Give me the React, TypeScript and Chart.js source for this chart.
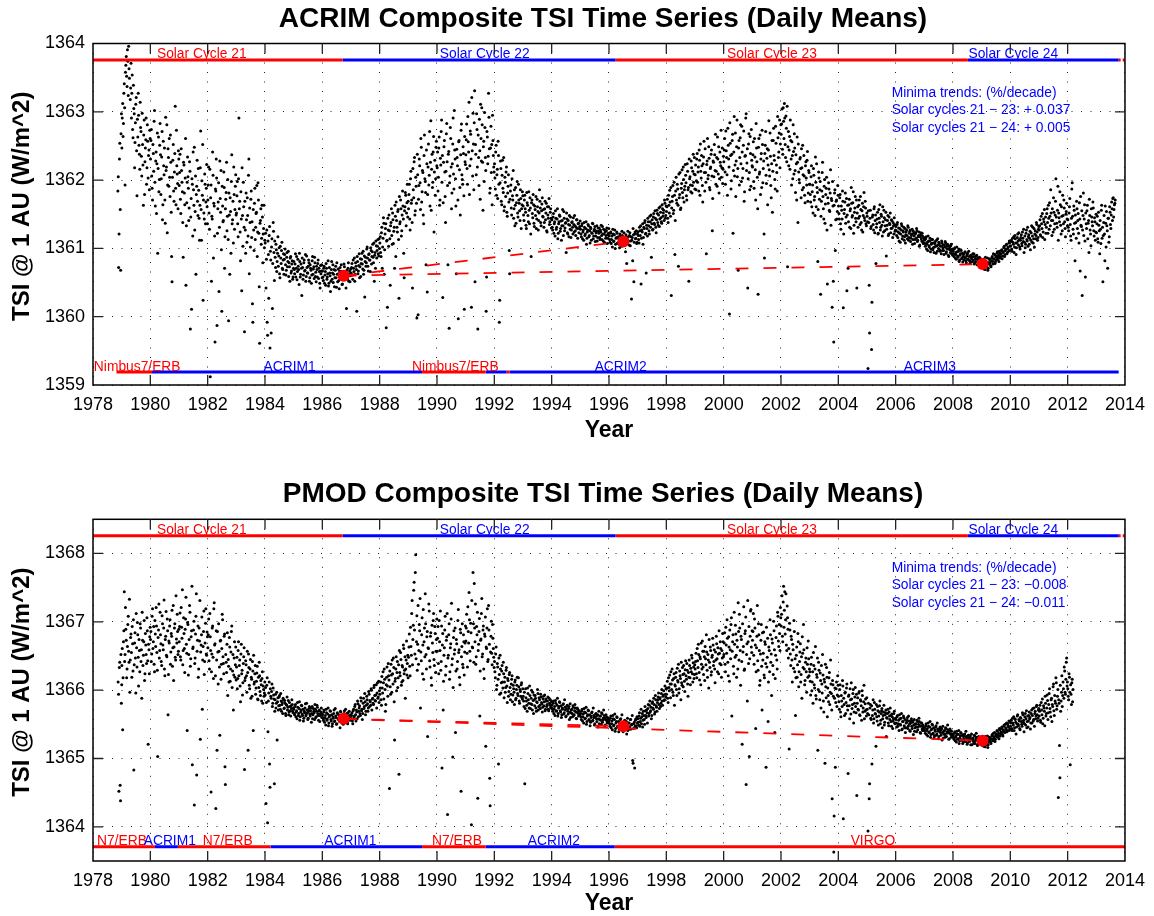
import React, { useEffect, useRef } from "react";
import { Chart, registerables } from "chart.js";

Chart.register(...registerables);

const FONT = "'Liberation Sans', Arial, Helvetica, sans-serif";
const RED = "#ff0000";
const BLUE = "#0000ff";
const STEP = 1 / 36; // sampling step of each plotted pass (years); pass B sits half a step later

const X_TICK_MIN = 1978;
const X_TICK_MAX = 2014;
const ACRIM_Y_TICKS = [1359, 1360, 1361, 1362, 1363, 1364];
const PMOD_Y_TICKS = [1364, 1365, 1366, 1367, 1368];

// ---------------- ACRIM composite TSI (W/m^2), pass A ----------------
const acrim1978 = [1361.84, 1360.72, 1362.31, 1361.57, 1362.68];
const acrim1979 = [
  1362.47, 1363.12, 1362.83, 1363.41, 1361.93, 1363.68, 1363.52, 1363.91, 1363.24, 1363.63, 1364.02, 1363.35,
  1362.91, 1363.54, 1362.62, 1363.05, 1362.18, 1362.84, 1363.21, 1361.77, 1362.63, 1362.95, 1362.38, 1363.14,
  1362.71, 1362.06, 1362.52, 1361.63, 1362.88, 1362.27, 1362.59, 1361.94, 1362.81, 1362.03, 1362.44, 1362.73];
const acrim1980 = [
  1362.31, 1362.74, 1361.88, 1362.52, 1362.13, 1363.02, 1361.62, 1362.41, 1362.24, 1360.93, 1362.63, 1362.01,
  1362.83, 1361.79, 1362.34, 1361.42, 1362.57, 1362.08, 1361.71, 1362.92, 1362.19, 1361.23, 1362.46, 1361.91,
  1362.04, 1362.66, 1361.53, 1360.51, 1362.29, 1361.84, 1362.12, 1363.08, 1361.64, 1362.21, 1361.95, 1362.43];
const acrim1981 = [
  1361.92, 1362.38, 1361.51, 1362.14, 1361.83, 1360.87, 1362.22, 1361.64, 1362.61, 1361.33, 1361.97, 1362.05,
  1361.41, 1362.27, 1359.82, 1361.73, 1362.02, 1361.18, 1361.86, 1362.48, 1361.54, 1360.62, 1361.91, 1361.69,
  1362.17, 1361.44, 1361.63, 1362.72, 1361.12, 1361.78, 1360.24, 1361.52, 1362.09, 1361.36, 1361.88, 1361.61];
const acrim1982 = [
  1361.71, 1362.19, 1361.28, 1359.12, 1361.93, 1361.47, 1362.41, 1360.86, 1361.62, 1359.63, 1361.84, 1362.03,
  1361.22, 1361.68, 1360.37, 1362.28, 1361.53, 1360.98, 1361.91, 1361.39, 1362.12, 1360.71, 1361.58, 1361.82,
  1361.26, 1362.01, 1359.94, 1361.49, 1361.74, 1360.93, 1362.37, 1361.42, 1361.08, 1361.79, 1361.57, 1362.08];
const acrim1983 = [
  1361.52, 1361.98, 1361.17, 1362.91, 1361.69, 1360.82, 1361.43, 1362.18, 1361.03, 1361.61, 1359.78, 1361.27,
  1361.81, 1361.09, 1361.48, 1362.07, 1360.63, 1361.38, 1361.72, 1361.16, 1360.19, 1361.57, 1360.97, 1361.88,
  1361.31, 1361.53, 1360.88, 1361.96, 1361.22, 1359.61, 1361.41, 1361.06, 1361.63, 1360.79, 1361.29, 1361.01];
const acrim1984 = [
  1361.08, 1360.42, 1361.27, 1359.73, 1360.91, 1361.19, 1359.54, 1360.83, 1361.02, 1360.12, 1361.38, 1360.94,
  1361.11, 1360.72, 1360.98, 1360.81, 1361.17, 1360.89, 1360.63, 1361.03, 1360.78, 1361.09, 1360.69, 1360.92,
  1360.84, 1360.99, 1360.61, 1360.87, 1360.73, 1360.96, 1360.79, 1360.52, 1360.88, 1360.67, 1360.82, 1360.58];
const acrim1985 = [
  1360.81, 1360.63, 1360.92, 1360.71, 1360.54, 1360.84, 1360.69, 1360.93, 1360.58, 1360.77, 1360.31, 1360.72,
  1360.61, 1360.83, 1360.68, 1360.52, 1360.89, 1360.64, 1360.74, 1360.79, 1360.57, 1360.71, 1360.49, 1360.82,
  1360.62, 1360.73, 1360.87, 1360.59, 1360.51, 1360.69, 1360.78, 1360.56, 1360.66, 1360.42, 1360.63, 1360.76];
const acrim1986 = [
  1360.67, 1360.53, 1360.74, 1360.61, 1360.46, 1360.71, 1360.58, 1360.82, 1360.49, 1360.64, 1360.37, 1360.69,
  1360.55, 1360.76, 1360.62, 1360.44, 1360.68, 1360.57, 1360.79, 1360.51, 1360.63, 1360.41, 1360.72, 1360.59,
  1360.66, 1360.48, 1360.61, 1360.77, 1360.54, 1360.65, 1360.12, 1360.58, 1360.71, 1360.52, 1360.67, 1360.6];
const acrim1987 = [
  1360.64, 1360.78, 1360.55, 1360.71, 1360.86, 1360.62, 1360.74, 1360.08, 1360.81, 1360.67, 1360.92, 1360.73,
  1360.59, 1360.84, 1360.77, 1360.96, 1360.68, 1360.29, 1360.87, 1360.79, 1361.02, 1360.74, 1360.91, 1360.83,
  1360.66, 1360.97, 1360.88, 1361.06, 1360.79, 1360.52, 1360.94, 1361.11, 1360.86, 1361.03, 1360.92, 1361.14];
const acrim1988 = [
  1361.08, 1360.94, 1361.23, 1360.71, 1361.15, 1361.37, 1360.98, 1361.29, 1359.84, 1361.12, 1361.44, 1361.03,
  1361.26, 1360.46, 1361.38, 1361.19, 1361.52, 1361.07, 1361.31, 1361.63, 1360.88, 1361.41, 1361.24, 1361.57,
  1360.27, 1361.36, 1361.71, 1361.18, 1361.49, 1361.62, 1360.93, 1361.55, 1361.82, 1361.33, 1361.67, 1361.46];
const acrim1989 = [
  1361.58, 1361.94, 1361.27, 1362.13, 1361.71, 1360.42, 1361.86, 1362.27, 1361.49, 1362.04, 1361.66, 1362.38,
  1360.03, 1361.92, 1362.21, 1361.57, 1362.48, 1361.83, 1362.11, 1361.36, 1362.66, 1361.98, 1360.76, 1362.24,
  1361.79, 1362.53, 1362.07, 1361.62, 1362.87, 1362.16, 1361.89, 1362.41, 1361.24, 1362.29, 1362.02, 1362.57];
const acrim1990 = [
  1362.18, 1361.84, 1362.47, 1361.63, 1362.32, 1362.71, 1361.97, 1360.28, 1362.26, 1362.58, 1361.76, 1362.13,
  1362.83, 1361.92, 1362.38, 1359.83, 1362.06, 1362.61, 1361.58, 1362.24, 1362.91, 1361.87, 1362.44, 1362.02,
  1360.63, 1362.33, 1361.71, 1362.56, 1362.15, 1361.49, 1362.73, 1362.08, 1361.94, 1362.39, 1360.11, 1362.27];
const acrim1991 = [
  1362.37, 1362.82, 1361.94, 1362.56, 1363.14, 1362.21, 1362.67, 1360.14, 1362.43, 1362.98, 1361.86, 1363.31,
  1362.52, 1362.08, 1362.74, 1359.82, 1362.33, 1362.89, 1361.72, 1362.61, 1363.06, 1362.26, 1362.49, 1361.98,
  1362.77, 1362.14, 1360.58, 1362.63, 1362.35, 1362.92, 1361.81, 1362.47, 1362.11, 1361.64, 1362.58, 1362.19];
const acrim1992 = [
  1362.24, 1361.87, 1362.51, 1362.08, 1361.73, 1362.36, 1359.92, 1361.96, 1362.17, 1361.64, 1362.29, 1361.82,
  1361.55, 1362.04, 1361.76, 1362.19, 1361.47, 1361.91, 1361.68, 1360.63, 1361.84, 1361.59, 1362.02, 1361.71,
  1361.44, 1361.86, 1361.63, 1361.37, 1361.78, 1361.52, 1361.94, 1361.66, 1361.41, 1361.73, 1361.58, 1361.83];
const acrim1993 = [
  1361.62, 1361.41, 1361.78, 1361.53, 1361.29, 1361.67, 1361.48, 1361.83, 1361.36, 1361.59, 1360.88, 1361.71,
  1361.45, 1361.64, 1361.32, 1361.57, 1361.76, 1361.43, 1361.61, 1361.27, 1361.52, 1361.69, 1361.38, 1361.55,
  1361.74, 1361.46, 1361.31, 1361.58, 1361.42, 1361.66, 1361.24, 1361.49, 1361.61, 1361.35, 1361.53, 1361.44];
const acrim1994 = [
  1361.42, 1361.27, 1361.51, 1361.36, 1361.18, 1361.44, 1361.31, 1361.58, 1361.22, 1361.39, 1361.47, 1361.29,
  1361.12, 1361.41, 1361.33, 1361.54, 1361.26, 1361.37, 1360.94, 1361.43, 1361.21, 1361.35, 1361.48, 1361.28,
  1361.16, 1361.38, 1361.31, 1361.45, 1361.24, 1361.33, 1361.19, 1361.42, 1361.29, 1361.36, 1361.23, 1361.32];
const acrim1995 = [
  1361.28, 1361.17, 1361.36, 1361.24, 1361.12, 1361.31, 1361.21, 1361.39, 1361.15, 1361.27, 1361.33, 1361.19,
  1361.08, 1361.29, 1361.23, 1361.37, 1361.14, 1361.26, 1361.32, 1361.18, 1361.25, 1361.11, 1361.3, 1361.22,
  1361.16, 1361.27, 1361.34, 1361.13, 1361.21, 1361.28, 1361.09, 1361.24, 1361.19, 1361.3, 1361.15, 1361.22];
const acrim1996 = [
  1361.18, 1361.09, 1361.24, 1361.13, 1361.02, 1361.21, 1361.11, 1361.27, 1361.06, 1361.16, 1361.22, 1361.08,
  1361.14, 1361.01, 1361.19, 1361.1, 1361.25, 1361.04, 1361.15, 1361.12, 1361.07, 1361.2, 1360.78, 1361.13,
  1361.17, 1361.05, 1361.23, 1361.11, 1360.26, 1361.16, 1361.29, 1360.51, 1361.21, 1361.14, 1361.26, 1361.09];
const acrim1997 = [
  1361.24, 1361.13, 1361.31, 1361.19, 1360.48, 1361.27, 1361.36, 1361.16, 1361.29, 1361.41, 1361.22, 1361.34,
  1361.18, 1361.39, 1361.26, 1361.47, 1361.31, 1360.87, 1361.42, 1361.28, 1361.51, 1361.35, 1361.44, 1361.23,
  1361.56, 1361.38, 1361.49, 1361.32, 1361.61, 1361.45, 1361.37, 1361.58, 1361.52, 1361.41, 1361.66, 1361.48];
const acrim1998 = [
  1361.54, 1361.72, 1361.38, 1361.63, 1361.85, 1361.47, 1360.31, 1361.69, 1361.92, 1361.56, 1361.78, 1361.41,
  1362.04, 1361.66, 1361.87, 1360.74, 1361.74, 1362.11, 1361.59, 1361.95, 1361.82, 1362.19, 1361.68, 1361.91,
  1362.07, 1361.77, 1362.24, 1361.86, 1360.52, 1362.02, 1361.93, 1362.28, 1361.81, 1362.13, 1361.97, 1362.33];
const acrim1999 = [
  1362.08, 1361.86, 1362.31, 1361.97, 1362.19, 1362.44, 1361.78, 1362.13, 1362.36, 1361.92, 1362.24, 1362.57,
  1361.84, 1362.11, 1360.92, 1362.28, 1362.02, 1362.49, 1361.89, 1362.17, 1362.38, 1362.06, 1361.73, 1362.26,
  1362.52, 1362.14, 1361.94, 1362.33, 1362.63, 1362.09, 1361.81, 1362.41, 1362.21, 1362.04, 1362.47, 1362.16];
const acrim2000 = [
  1362.27, 1362.61, 1361.94, 1362.43, 1362.08, 1362.76, 1362.31, 1360.04, 1362.54, 1361.87, 1362.38, 1362.67,
  1362.14, 1362.93, 1362.22, 1361.76, 1362.49, 1362.05, 1360.68, 1362.58, 1362.33, 1362.81, 1361.98, 1362.41,
  1362.17, 1362.72, 1361.83, 1362.36, 1362.97, 1362.25, 1360.42, 1362.53, 1362.11, 1362.64, 1361.91, 1362.29];
const acrim2001 = [
  1362.19, 1362.56, 1361.88, 1362.34, 1361.71, 1362.47, 1362.04, 1360.33, 1362.61, 1362.12, 1361.79, 1362.39,
  1362.73, 1361.96, 1362.28, 1360.86, 1362.51, 1362.07, 1362.32, 1361.64, 1362.44, 1362.15, 1362.69, 1361.92,
  1362.24, 1361.53, 1362.58, 1362.36, 1362.01, 1362.79, 1362.22, 1361.84, 1362.62, 1362.41, 1362.88, 1362.53];
const acrim2002 = [
  1362.67, 1363.04, 1362.38, 1362.86, 1363.12, 1362.52, 1362.94, 1362.27, 1360.73, 1362.71, 1362.44, 1362.16,
  1362.58, 1361.93, 1362.36, 1362.81, 1362.09, 1362.47, 1361.82, 1362.24, 1362.63, 1361.38, 1362.12, 1361.96,
  1362.33, 1361.74, 1362.18, 1362.51, 1361.89, 1362.06, 1361.67, 1362.27, 1361.93, 1362.42, 1361.81, 1362.11];
const acrim2003 = [
  1361.94, 1361.68, 1362.21, 1361.83, 1361.52, 1362.07, 1361.76, 1362.34, 1361.61, 1361.89, 1360.81, 1362.12,
  1361.72, 1361.98, 1361.47, 1361.84, 1362.26, 1361.58, 1361.91, 1361.37, 1361.79, 1362.04, 1360.48, 1361.66,
  1361.87, 1361.54, 1362.15, 1361.73, 1360.14, 1361.62, 1359.63, 1361.81, 1360.97, 1361.69, 1361.43, 1361.92];
const acrim2004 = [
  1361.62, 1361.43, 1361.79, 1361.28, 1361.56, 1361.84, 1360.13, 1361.51, 1361.68, 1361.37, 1361.73, 1361.49,
  1360.71, 1361.64, 1361.31, 1361.58, 1361.89, 1361.46, 1361.67, 1361.22, 1361.53, 1361.76, 1361.39, 1360.42,
  1361.61, 1361.44, 1361.71, 1361.35, 1361.57, 1361.27, 1361.66, 1361.48, 1361.82, 1361.41, 1361.59, 1361.33];
const acrim2005 = [
  1361.47, 1359.24, 1361.38, 1359.76, 1361.56, 1361.32, 1360.21, 1361.49, 1361.27, 1361.61, 1361.41, 1360.78,
  1361.36, 1361.53, 1361.22, 1361.44, 1361.64, 1361.31, 1361.47, 1361.18, 1361.39, 1361.56, 1361.26, 1361.42,
  1360.89, 1361.34, 1361.48, 1361.21, 1361.37, 1361.52, 1361.29, 1361.41, 1361.16, 1361.33, 1361.45, 1361.25];
const acrim2006 = [
  1361.32, 1361.19, 1361.38, 1361.24, 1361.11, 1361.29, 1361.21, 1361.36, 1361.14, 1361.26, 1361.31, 1361.17,
  1361.08, 1361.24, 1361.19, 1361.33, 1361.12, 1361.22, 1361.27, 1361.15, 1361.21, 1361.06, 1361.25, 1361.18,
  1361.13, 1361.23, 1361.29, 1361.1, 1361.17, 1361.24, 1361.05, 1361.2, 1361.14, 1361.22, 1361.09, 1361.16];
const acrim2007 = [
  1361.12, 1361.03, 1361.17, 1361.06, 1360.97, 1361.11, 1361.02, 1361.15, 1360.99, 1361.08, 1361.13, 1361.01,
  1360.94, 1361.07, 1361.03, 1361.12, 1360.96, 1361.05, 1361.09, 1360.98, 1361.04, 1360.92, 1361.08, 1361.01,
  1360.97, 1361.05, 1361.1, 1360.93, 1361.0, 1361.06, 1360.9, 1361.03, 1360.98, 1361.04, 1360.92, 1360.99];
const acrim2008 = [
  1360.96, 1360.88, 1361.01, 1360.91, 1360.84, 1360.95, 1360.87, 1360.99, 1360.83, 1360.92, 1360.97, 1360.86,
  1360.8, 1360.91, 1360.87, 1360.95, 1360.82, 1360.89, 1360.93, 1360.84, 1360.88, 1360.78, 1360.9, 1360.85,
  1360.81, 1360.88, 1360.92, 1360.79, 1360.85, 1360.89, 1360.76, 1360.86, 1360.82, 1360.87, 1360.77, 1360.83];
const acrim2009 = [
  1360.79, 1360.72, 1360.84, 1360.76, 1360.69, 1360.81, 1360.74, 1360.86, 1360.71, 1360.79, 1360.83, 1360.75,
  1360.82, 1360.88, 1360.77, 1360.85, 1360.91, 1360.8, 1360.87, 1360.93, 1360.84, 1360.9, 1360.96, 1360.86,
  1360.92, 1360.98, 1360.89, 1360.95, 1361.03, 1360.91, 1360.99, 1361.06, 1360.94, 1361.02, 1361.08, 1360.97];
const acrim2010 = [
  1361.04, 1361.12, 1360.96, 1361.09, 1361.17, 1361.02, 1361.14, 1360.91, 1361.08, 1361.21, 1361.05, 1361.13,
  1360.99, 1361.16, 1361.07, 1361.24, 1361.1, 1360.94, 1361.18, 1361.06, 1361.27, 1361.11, 1361.03, 1361.2,
  1361.15, 1360.98, 1361.23, 1361.09, 1361.31, 1361.14, 1361.02, 1361.26, 1361.19, 1361.35, 1361.12, 1361.28];
const acrim2011 = [
  1361.27, 1361.42, 1361.18, 1361.36, 1361.51, 1361.24, 1361.39, 1361.13, 1361.46, 1361.31, 1361.58, 1361.22,
  1361.44, 1361.67, 1361.33, 1361.52, 1361.19, 1361.41, 1361.74, 1361.28, 1361.49, 1362.02, 1361.37, 1361.56,
  1361.12, 1361.45, 1361.83, 1361.34, 1361.61, 1361.26, 1361.48, 1361.71, 1361.39, 1361.17, 1361.54, 1361.43];
const acrim2012 = [
  1361.42, 1361.26, 1361.61, 1361.35, 1361.12, 1361.87, 1361.47, 1361.21, 1361.56, 1360.82, 1361.38, 1361.69,
  1361.29, 1361.51, 1361.08, 1361.43, 1361.76, 1361.32, 1360.31, 1361.48, 1361.19, 1361.64, 1360.58, 1361.36,
  1361.55, 1361.14, 1361.41, 1361.72, 1361.27, 1361.04, 1361.46, 1361.33, 1361.59, 1361.18, 1361.39, 1361.24];
const acrim2013 = [
  1361.23, 1361.47, 1361.09, 1361.34, 1360.92, 1361.28, 1361.56, 1361.15, 1360.51, 1361.38, 1361.21, 1361.62,
  1361.02, 1361.33, 1360.71, 1361.44, 1361.17, 1361.53, 1361.29, 1361.68, 1361.41, 1361.74, 1361.57, 1361.66];

// ---------------- ACRIM composite TSI (W/m^2), pass B ----------------
const acrim1978b = [1362.05, 1361.21, 1362.54, 1360.68, 1362.97];
const acrim1979b = [
  1362.91, 1362.64, 1363.27, 1363.06, 1363.58, 1363.81, 1363.37, 1363.74, 1363.96, 1363.49, 1363.18, 1363.71,
  1363.27, 1362.74, 1363.39, 1362.97, 1362.55, 1363.11, 1362.43, 1362.89, 1363.27, 1362.51, 1362.16, 1362.77,
  1362.35, 1362.98, 1362.22, 1362.66, 1361.79, 1362.47, 1362.91, 1362.18, 1362.57, 1362.36, 1361.86, 1362.61];
const acrim1980b = [
  1362.58, 1362.06, 1361.71, 1362.39, 1362.86, 1361.97, 1362.28, 1361.51, 1362.69, 1362.17, 1361.83, 1362.51,
  1362.37, 1362.02, 1362.71, 1361.64, 1362.21, 1362.47, 1361.37, 1362.14, 1362.81, 1361.93, 1362.33, 1362.61,
  1361.76, 1362.26, 1360.88, 1362.04, 1362.52, 1361.69, 1362.39, 1361.88, 1362.73, 1362.09, 1361.58, 1362.31];
const acrim1981b = [
  1362.11, 1361.72, 1362.46, 1361.97, 1361.38, 1362.26, 1361.81, 1362.03, 1360.46, 1361.67, 1362.34, 1361.88,
  1361.59, 1362.13, 1361.46, 1360.11, 1361.94, 1362.41, 1361.63, 1361.27, 1362.06, 1361.79, 1362.29, 1361.48,
  1361.85, 1361.12, 1362.18, 1361.57, 1361.99, 1362.52, 1361.71, 1361.43, 1361.94, 1361.68, 1362.23, 1361.36];
const acrim1982b = [
  1361.93, 1361.52, 1362.16, 1361.74, 1360.52, 1361.43, 1362.07, 1361.66, 1361.18, 1361.87, 1362.31, 1359.87,
  1361.58, 1361.96, 1361.31, 1361.73, 1362.14, 1360.08, 1361.62, 1361.41, 1361.89, 1361.17, 1361.72, 1362.26,
  1361.47, 1361.13, 1361.81, 1360.62, 1361.54, 1361.98, 1361.36, 1361.69, 1362.19, 1361.28, 1361.91, 1361.49];
const acrim1983b = [
  1361.77, 1361.36, 1362.02, 1361.58, 1361.24, 1361.83, 1360.38, 1361.48, 1361.97, 1361.31, 1361.69, 1360.93,
  1361.42, 1361.74, 1361.18, 1362.31, 1361.59, 1361.02, 1361.84, 1361.39, 1359.92, 1361.27, 1361.66, 1361.13,
  1361.51, 1361.92, 1361.24, 1361.71, 1360.44, 1361.37, 1361.58, 1361.15, 1361.46, 1361.21, 1361.63, 1361.12];
const acrim1984b = [
  1361.22, 1360.84, 1359.92, 1361.11, 1360.27, 1361.32, 1360.96, 1359.76, 1361.14, 1360.78, 1361.25, 1360.53,
  1360.87, 1361.06, 1360.66, 1360.93, 1360.74, 1361.01, 1360.57, 1360.86, 1360.97, 1360.71, 1360.83, 1360.62,
  1360.91, 1360.76, 1360.68, 1360.94, 1360.81, 1360.59, 1360.73, 1360.86, 1360.64, 1360.77, 1360.55, 1360.71];
const acrim1985b = [
  1360.69, 1360.77, 1360.58, 1360.88, 1360.66, 1360.74, 1360.47, 1360.81, 1360.62, 1360.71, 1360.86, 1360.55,
  1360.79, 1360.67, 1360.91, 1360.59, 1360.72, 1360.64, 1360.83, 1360.52, 1360.76, 1360.68, 1360.61, 1360.88,
  1360.7, 1360.56, 1360.79, 1360.65, 1360.74, 1360.58, 1360.83, 1360.71, 1360.49, 1360.75, 1360.67, 1360.57];
const acrim1986b = [
  1360.58, 1360.71, 1360.49, 1360.66, 1360.78, 1360.55, 1360.63, 1360.45, 1360.72, 1360.6, 1360.52, 1360.81,
  1360.64, 1360.5, 1360.69, 1360.57, 1360.74, 1360.43, 1360.62, 1360.7, 1360.53, 1360.67, 1360.59, 1360.76,
  1360.47, 1360.65, 1360.56, 1360.73, 1360.61, 1360.42, 1360.68, 1360.55, 1360.79, 1360.63, 1360.51, 1360.7];
const acrim1987b = [
  1360.72, 1360.61, 1360.83, 1360.66, 1360.52, 1360.79, 1360.69, 1360.88, 1360.63, 1360.75, 1360.57, 1360.85,
  1360.78, 1360.93, 1360.7, 1360.62, 1360.89, 1360.81, 1360.74, 1360.99, 1360.86, 1360.67, 1360.92, 1360.83,
  1361.01, 1360.77, 1360.95, 1360.87, 1361.08, 1360.9, 1360.71, 1361.04, 1360.97, 1361.13, 1360.89, 1361.0];
const acrim1988b = [
  1361.17, 1360.88, 1361.31, 1361.02, 1361.45, 1360.62, 1361.21, 1361.36, 1361.11, 1360.14, 1361.27, 1361.49,
  1361.14, 1361.33, 1361.58, 1361.06, 1361.42, 1361.25, 1360.71, 1361.47, 1361.68, 1361.31, 1361.54, 1361.13,
  1361.76, 1361.39, 1361.58, 1361.26, 1361.84, 1361.43, 1360.57, 1361.61, 1361.78, 1361.52, 1361.94, 1361.69];
const acrim1989b = [
  1361.79, 1361.43, 1362.02, 1361.66, 1361.38, 1362.17, 1361.74, 1362.33, 1361.55, 1361.91, 1359.98, 1362.08,
  1361.72, 1362.31, 1361.96, 1362.61, 1361.68, 1362.14, 1361.49, 1362.36, 1362.02, 1361.82, 1362.44, 1360.36,
  1362.19, 1361.93, 1362.71, 1362.26, 1361.56, 1362.38, 1361.97, 1362.64, 1362.12, 1361.78, 1362.48, 1362.21];
const acrim1990b = [
  1362.41, 1362.04, 1362.63, 1361.71, 1362.22, 1362.88, 1362.36, 1361.67, 1362.49, 1362.12, 1361.38, 1362.68,
  1362.27, 1360.76, 1362.42, 1361.96, 1362.77, 1362.19, 1361.81, 1362.53, 1362.09, 1363.02, 1362.31, 1361.62,
  1362.45, 1362.21, 1359.97, 1362.58, 1361.89, 1362.37, 1362.82, 1362.01, 1362.49, 1361.77, 1362.64, 1362.23];
const acrim1991b = [
  1362.59, 1362.17, 1362.93, 1362.41, 1361.79, 1362.72, 1362.31, 1363.21, 1362.06, 1362.53, 1362.84, 1360.51,
  1362.38, 1362.97, 1362.19, 1362.66, 1361.92, 1362.43, 1363.11, 1362.28, 1362.81, 1361.56, 1362.57, 1362.99,
  1362.33, 1360.08, 1362.71, 1362.24, 1363.27, 1362.46, 1361.88, 1362.79, 1362.52, 1362.95, 1362.36, 1362.12];
const acrim1992b = [
  1362.03, 1362.41, 1361.78, 1362.16, 1362.57, 1361.94, 1360.24, 1362.28, 1361.69, 1362.07, 1361.88, 1362.33,
  1361.61, 1361.97, 1362.12, 1361.53, 1361.81, 1362.08, 1360.97, 1361.72, 1361.93, 1361.49, 1361.77, 1362.14,
  1361.58, 1361.33, 1361.89, 1361.67, 1361.98, 1361.46, 1361.71, 1361.55, 1361.86, 1361.29, 1361.64, 1361.77];
const acrim1993b = [
  1361.49, 1361.71, 1361.58, 1361.34, 1361.82, 1361.63, 1361.39, 1361.56, 1361.74, 1361.21, 1361.67, 1361.51,
  1361.79, 1361.37, 1361.62, 1361.48, 1361.29, 1361.72, 1361.54, 1361.41, 1361.86, 1361.59, 1361.33, 1361.65,
  1361.47, 1361.57, 1361.38, 1361.69, 1361.52, 1361.26, 1361.61, 1361.44, 1361.73, 1361.39, 1361.58, 1361.3];
const acrim1994b = [
  1361.31, 1361.46, 1361.22, 1361.39, 1361.55, 1361.28, 1361.43, 1361.14, 1361.36, 1361.49, 1361.25, 1361.4,
  1361.33, 1361.57, 1361.19, 1361.44, 1361.3, 1361.38, 1361.52, 1361.23, 1361.41, 1361.17, 1361.34, 1361.46,
  1361.27, 1361.39, 1361.21, 1361.35, 1361.48, 1361.26, 1361.31, 1361.42, 1361.15, 1361.37, 1361.29, 1361.4];
const acrim1995b = [
  1361.21, 1361.33, 1361.14, 1361.27, 1361.38, 1361.19, 1361.29, 1361.06, 1361.24, 1361.35, 1361.17, 1361.26,
  1361.31, 1361.12, 1361.22, 1361.36, 1361.18, 1361.28, 1361.1, 1361.23, 1361.33, 1361.16, 1361.25, 1361.3,
  1361.13, 1361.24, 1361.19, 1361.32, 1361.11, 1361.21, 1361.27, 1361.15, 1361.26, 1361.07, 1361.2, 1361.29];
const acrim1996b = [
  1361.13, 1361.22, 1361.07, 1361.18, 1361.28, 1361.1, 1361.2, 1361.0, 1361.15, 1361.24, 1361.08, 1361.17,
  1361.06, 1361.21, 1361.12, 1361.03, 1361.19, 1361.09, 1361.23, 1361.14, 1360.95, 1361.16, 1361.08, 1361.25,
  1361.11, 1361.19, 1361.04, 1361.17, 1361.12, 1360.82, 1361.2, 1361.09, 1361.24, 1361.15, 1361.07, 1361.21];
const acrim1997b = [
  1361.19, 1361.08, 1361.26, 1361.33, 1361.15, 1361.24, 1361.06, 1361.31, 1361.38, 1361.21, 1360.64, 1361.29,
  1361.44, 1361.33, 1361.21, 1361.39, 1361.49, 1361.36, 1361.27, 1361.46, 1361.37, 1361.55, 1361.31, 1361.42,
  1361.51, 1361.34, 1361.59, 1361.43, 1361.53, 1361.39, 1361.64, 1361.47, 1361.56, 1361.71, 1361.44, 1361.62];
const acrim1998b = [
  1361.61, 1361.44, 1361.78, 1361.52, 1361.68, 1361.89, 1361.59, 1361.76, 1361.51, 1361.97, 1360.91, 1361.84,
  1361.71, 1361.94, 1361.63, 1362.09, 1361.79, 1361.57, 1361.88, 1362.15, 1361.74, 1362.01, 1361.86, 1362.23,
  1361.96, 1361.71, 1362.13, 1361.89, 1362.31, 1362.05, 1361.83, 1362.18, 1361.92, 1362.38, 1362.09, 1361.87];
const acrim1999b = [
  1362.22, 1361.99, 1362.39, 1362.12, 1361.84, 1362.29, 1362.53, 1362.03, 1362.21, 1361.68, 1362.34, 1362.11,
  1362.46, 1361.97, 1362.23, 1362.61, 1362.07, 1362.32, 1361.86, 1362.19, 1362.44, 1361.26, 1362.28, 1362.05,
  1362.37, 1362.67, 1362.13, 1361.91, 1362.31, 1362.49, 1362.02, 1362.26, 1362.73, 1362.18, 1361.95, 1362.35];
const acrim2000b = [
  1362.44, 1362.12, 1362.72, 1362.33, 1361.78, 1362.51, 1362.19, 1362.84, 1362.36, 1361.99, 1362.58, 1361.22,
  1362.41, 1362.06, 1362.69, 1362.28, 1362.88, 1362.17, 1362.47, 1361.93, 1362.62, 1362.24, 1362.79, 1362.03,
  1362.51, 1361.69, 1362.35, 1362.91, 1362.14, 1362.46, 1362.02, 1362.68, 1361.86, 1362.39, 1362.74, 1362.21];
const acrim2001b = [
  1362.37, 1361.98, 1362.61, 1362.15, 1362.83, 1362.27, 1361.58, 1362.48, 1362.09, 1362.66, 1362.31, 1361.89,
  1362.52, 1362.17, 1361.21, 1362.39, 1362.71, 1361.95, 1362.46, 1362.22, 1362.87, 1362.06, 1362.35, 1361.74,
  1362.58, 1362.13, 1362.76, 1362.29, 1361.87, 1362.54, 1362.11, 1362.93, 1362.33, 1362.69, 1362.18, 1362.81];
const acrim2002b = [
  1362.82, 1362.45, 1363.06, 1362.61, 1362.91, 1362.33, 1362.76, 1363.08, 1362.49, 1362.21, 1362.64, 1362.88,
  1362.31, 1362.56, 1362.02, 1362.42, 1362.68, 1362.14, 1362.37, 1361.71, 1362.26, 1362.53, 1362.01, 1362.31,
  1362.17, 1362.46, 1361.86, 1362.08, 1362.36, 1361.78, 1362.21, 1362.03, 1362.29, 1361.69, 1362.14, 1361.94];
const acrim2003b = [
  1361.79, 1362.05, 1361.61, 1361.93, 1362.17, 1361.71, 1361.48, 1361.97, 1362.24, 1361.82, 1361.57, 1362.03,
  1361.86, 1360.33, 1361.69, 1362.11, 1361.76, 1361.43, 1362.01, 1361.65, 1361.88, 1361.27, 1361.74, 1361.96,
  1361.56, 1361.81, 1361.34, 1361.7, 1361.98, 1360.52, 1361.63, 1361.86, 1361.42, 1361.71, 1361.54, 1361.78];
const acrim2004b = [
  1361.51, 1361.74, 1361.36, 1361.62, 1361.43, 1361.69, 1361.21, 1361.57, 1361.81, 1361.46, 1360.38, 1361.63,
  1361.39, 1361.72, 1361.55, 1361.29, 1361.66, 1361.48, 1361.83, 1361.34, 1361.59, 1361.44, 1361.71, 1361.52,
  1361.31, 1361.63, 1361.47, 1361.76, 1361.38, 1361.55, 1361.24, 1361.61, 1361.45, 1361.69, 1361.36, 1361.52];
const acrim2005b = [
  1361.39, 1361.55, 1360.46, 1361.44, 1361.29, 1359.52, 1361.46, 1361.35, 1361.58, 1361.23, 1361.49, 1361.31,
  1361.43, 1361.21, 1361.57, 1361.38, 1361.27, 1361.5, 1361.34, 1361.61, 1361.24, 1361.45, 1361.33, 1361.53,
  1361.28, 1361.41, 1361.19, 1361.46, 1361.35, 1361.23, 1361.42, 1361.3, 1361.38, 1361.21, 1361.35, 1361.27];
const acrim2006b = [
  1361.26, 1361.35, 1361.16, 1361.3, 1361.22, 1361.09, 1361.27, 1361.33, 1361.18, 1361.24, 1361.12, 1361.29,
  1361.2, 1361.27, 1361.14, 1361.31, 1361.16, 1361.25, 1361.1, 1361.19, 1361.28, 1361.13, 1361.22, 1361.07,
  1361.21, 1361.15, 1361.26, 1361.12, 1361.19, 1361.03, 1361.17, 1361.23, 1361.11, 1361.18, 1361.07, 1361.14];
const acrim2007b = [
  1361.07, 1361.14, 1360.99, 1361.09, 1361.18, 1361.04, 1361.11, 1360.95, 1361.06, 1361.13, 1360.98, 1361.08,
  1361.02, 1361.1, 1360.93, 1361.04, 1361.14, 1361.0, 1361.07, 1360.96, 1361.03, 1361.11, 1360.97, 1361.05,
  1360.91, 1361.02, 1361.08, 1360.95, 1361.04, 1360.99, 1360.88, 1361.01, 1360.94, 1361.06, 1360.97, 1360.9];
const acrim2008b = [
  1360.92, 1360.99, 1360.86, 1360.94, 1361.02, 1360.89, 1360.96, 1360.81, 1360.9, 1360.98, 1360.85, 1360.93,
  1360.88, 1360.83, 1360.94, 1360.86, 1360.79, 1360.91, 1360.84, 1360.96, 1360.82, 1360.89, 1360.8, 1360.87,
  1360.92, 1360.83, 1360.77, 1360.88, 1360.81, 1360.9, 1360.84, 1360.79, 1360.86, 1360.74, 1360.85, 1360.8];
const acrim2009b = [
  1360.76, 1360.83, 1360.7, 1360.78, 1360.87, 1360.73, 1360.8, 1360.68, 1360.77, 1360.85, 1360.79, 1360.73,
  1360.86, 1360.81, 1360.92, 1360.84, 1360.78, 1360.89, 1360.83, 1360.95, 1360.87, 1360.81, 1360.93, 1360.88,
  1360.97, 1360.85, 1360.94, 1361.01, 1360.88, 1360.97, 1361.05, 1360.92, 1361.0, 1360.96, 1361.11, 1361.03];
const acrim2010b = [
  1361.1, 1360.99, 1361.15, 1361.06, 1360.94, 1361.19, 1361.08, 1361.01, 1361.16, 1361.11, 1361.23, 1361.02,
  1361.12, 1361.2, 1361.04, 1361.15, 1361.28, 1361.09, 1361.01, 1361.22, 1361.13, 1361.31, 1361.17, 1361.06,
  1361.25, 1361.12, 1361.33, 1361.18, 1361.08, 1361.29, 1361.21, 1361.14, 1361.38, 1361.24, 1361.16, 1361.32];
const acrim2011b = [
  1361.33, 1361.2, 1361.47, 1361.29, 1361.16, 1361.43, 1361.57, 1361.35, 1361.22, 1361.51, 1361.38, 1361.63,
  1361.28, 1361.47, 1361.86, 1361.41, 1361.58, 1361.24, 1361.53, 1361.36, 1361.69, 1361.46, 1361.31, 1361.91,
  1361.52, 1361.39, 1361.64, 1361.21, 1361.47, 1361.78, 1361.36, 1361.59, 1361.29, 1361.5, 1361.66, 1361.33];
const acrim2012b = [
  1361.31, 1361.52, 1361.73, 1361.18, 1361.44, 1361.96, 1361.28, 1361.62, 1361.37, 1361.49, 1361.15, 1361.58,
  1361.41, 1361.22, 1361.67, 1360.67, 1361.34, 1361.55, 1361.27, 1361.81, 1361.43, 1361.11, 1361.52, 1361.29,
  1361.63, 1361.37, 1360.94, 1361.48, 1361.21, 1361.58, 1361.39, 1361.68, 1361.26, 1361.45, 1361.12, 1361.5];
const acrim2013b = [
  1361.36, 1361.14, 1361.53, 1361.26, 1361.41, 1361.07, 1361.63, 1361.31, 1361.19, 1361.48, 1360.82, 1361.37,
  1361.54, 1361.26, 1361.44, 1361.09, 1361.61, 1361.35, 1361.49, 1361.58, 1361.73, 1361.46, 1361.64, 1361.71];

// ---------------- PMOD composite TSI (W/m^2), pass A ----------------
const pmod1978 = [1366.12, 1364.52, 1366.41, 1364.38, 1365.81];
const pmod1979 = [
  1366.36, 1365.42, 1366.71, 1367.44, 1366.52, 1366.89, 1366.18, 1366.64, 1367.08, 1366.41, 1365.97, 1366.77,
  1366.55, 1366.93, 1366.28, 1364.83, 1366.69, 1366.47, 1367.12, 1366.34, 1366.81, 1366.06, 1366.58, 1366.97,
  1366.42, 1365.88, 1366.73, 1366.51, 1367.02, 1366.24, 1366.66, 1366.39, 1366.87, 1365.21, 1366.59, 1366.78];
const pmod1980 = [
  1366.74, 1366.42, 1367.08, 1366.61, 1366.93, 1366.27, 1366.82, 1367.21, 1366.55, 1365.03, 1366.88, 1366.47,
  1367.14, 1366.68, 1366.36, 1366.97, 1366.59, 1367.32, 1366.21, 1366.79, 1366.51, 1367.04, 1365.64, 1366.72,
  1366.94, 1366.38, 1366.83, 1367.17, 1366.62, 1366.14, 1366.91, 1366.48, 1367.38, 1366.69, 1366.86, 1366.57];
const pmod1981 = [
  1366.71, 1367.13, 1366.44, 1366.92, 1367.47, 1366.58, 1366.83, 1366.26, 1367.04, 1366.67, 1365.41, 1366.96,
  1366.52, 1367.24, 1366.35, 1366.78, 1367.52, 1366.61, 1366.88, 1364.32, 1366.47, 1367.08, 1364.76, 1366.73,
  1366.19, 1366.91, 1367.31, 1366.56, 1366.81, 1365.72, 1366.64, 1367.16, 1366.42, 1366.98, 1366.53, 1366.85];
const pmod1982 = [
  1366.62, 1367.04, 1366.31, 1366.78, 1364.51, 1366.53, 1366.94, 1366.17, 1367.28, 1366.68, 1364.27, 1366.44,
  1366.86, 1366.09, 1366.57, 1365.34, 1366.73, 1366.38, 1367.11, 1366.49, 1366.24, 1366.82, 1364.62, 1366.41,
  1366.67, 1365.92, 1366.35, 1366.77, 1366.13, 1366.56, 1366.94, 1366.28, 1365.71, 1366.47, 1366.19, 1366.63];
const pmod1983 = [
  1366.34, 1366.02, 1366.58, 1366.21, 1366.44, 1365.83, 1366.67, 1366.29, 1366.11, 1366.49, 1364.84, 1366.18,
  1366.37, 1365.97, 1366.26, 1366.53, 1366.07, 1366.31, 1365.88, 1366.16, 1366.42, 1365.41, 1366.09, 1366.24,
  1365.94, 1366.13, 1366.35, 1365.86, 1366.04, 1366.21, 1365.92, 1366.08, 1366.17, 1365.81, 1366.01, 1365.96];
const pmod1984 = [
  1365.93, 1364.34, 1366.07, 1364.06, 1365.84, 1366.12, 1364.58, 1365.91, 1365.98, 1365.76, 1366.03, 1365.87,
  1365.69, 1365.94, 1365.81, 1365.27, 1365.89, 1365.77, 1365.92, 1365.72, 1365.84, 1365.79, 1365.66, 1365.86,
  1365.74, 1365.81, 1365.63, 1365.78, 1365.71, 1365.85, 1365.68, 1365.76, 1365.62, 1365.73, 1365.79, 1365.67];
const pmod1985 = [
  1365.72, 1365.64, 1365.79, 1365.68, 1365.58, 1365.75, 1365.66, 1365.83, 1365.61, 1365.71, 1365.77, 1365.63,
  1365.55, 1365.69, 1365.74, 1365.62, 1365.81, 1365.67, 1365.59, 1365.73, 1365.65, 1365.7, 1365.53, 1365.76,
  1365.64, 1365.69, 1365.57, 1365.72, 1365.61, 1365.78, 1365.66, 1365.56, 1365.71, 1365.63, 1365.68, 1365.6];
const pmod1986 = [
  1365.64, 1365.56, 1365.71, 1365.59, 1365.49, 1365.67, 1365.58, 1365.74, 1365.52, 1365.63, 1365.69, 1365.55,
  1365.47, 1365.61, 1365.66, 1365.54, 1365.73, 1365.6, 1365.51, 1365.65, 1365.57, 1365.62, 1365.45, 1365.68,
  1365.56, 1365.61, 1365.5, 1365.66, 1365.58, 1365.72, 1365.6, 1365.53, 1365.67, 1365.57, 1365.63, 1365.59];
const pmod1987 = [
  1365.58, 1365.67, 1365.51, 1365.72, 1365.62, 1365.79, 1365.55, 1365.68, 1365.84, 1365.61, 1365.74, 1365.66,
  1365.89, 1365.7, 1365.57, 1365.81, 1365.73, 1365.95, 1365.64, 1365.78, 1365.86, 1365.69, 1365.98, 1365.76,
  1365.83, 1366.02, 1365.71, 1365.88, 1365.79, 1366.07, 1365.85, 1365.93, 1365.74, 1366.11, 1365.9, 1365.82];
const pmod1988 = [
  1365.94, 1366.12, 1365.78, 1366.03, 1366.27, 1365.87, 1366.16, 1365.69, 1366.08, 1366.34, 1365.91, 1366.21,
  1364.56, 1366.05, 1366.38, 1365.97, 1366.24, 1366.47, 1365.83, 1366.13, 1366.31, 1365.99, 1366.42, 1366.18,
  1364.77, 1366.26, 1366.55, 1366.07, 1366.36, 1366.14, 1366.61, 1366.29, 1365.88, 1366.44, 1366.22, 1366.51];
const pmod1989 = [
  1366.48, 1366.82, 1366.21, 1366.64, 1367.12, 1366.37, 1366.95, 1367.58, 1366.53, 1367.98, 1366.71, 1366.29,
  1367.24, 1366.58, 1366.87, 1365.74, 1366.43, 1367.06, 1366.66, 1366.16, 1366.91, 1367.41, 1366.52, 1366.78,
  1365.32, 1366.61, 1367.16, 1366.34, 1366.84, 1366.07, 1366.69, 1367.02, 1366.45, 1366.93, 1366.26, 1366.74];
const pmod1990 = [
  1366.57, 1366.93, 1366.24, 1366.71, 1367.16, 1366.42, 1364.86, 1366.83, 1366.13, 1366.62, 1367.08, 1366.35,
  1366.78, 1364.18, 1366.51, 1366.97, 1366.27, 1366.68, 1367.27, 1366.46, 1366.04, 1366.87, 1366.59, 1365.38,
  1366.74, 1366.31, 1367.02, 1366.55, 1366.19, 1366.89, 1364.52, 1366.64, 1366.38, 1366.81, 1366.22, 1366.69];
const pmod1991 = [
  1366.72, 1367.11, 1366.34, 1366.86, 1367.43, 1366.57, 1366.98, 1364.03, 1366.63, 1367.72, 1366.41, 1366.91,
  1367.26, 1366.49, 1366.81, 1364.42, 1366.67, 1367.05, 1366.28, 1366.75, 1367.34, 1366.53, 1366.94, 1366.17,
  1366.79, 1365.18, 1366.61, 1367.19, 1366.45, 1366.88, 1364.71, 1366.56, 1367.01, 1366.37, 1366.76, 1366.48];
const pmod1992 = [
  1366.42, 1366.18, 1366.63, 1366.07, 1366.34, 1364.92, 1366.23, 1366.51, 1365.96, 1366.28, 1366.12, 1366.41,
  1365.89, 1366.19, 1366.04, 1366.33, 1365.82, 1366.14, 1365.98, 1366.26, 1365.86, 1366.09, 1366.21, 1365.93,
  1366.02, 1365.79, 1366.15, 1365.88, 1366.07, 1365.95, 1366.18, 1365.84, 1366.01, 1365.91, 1366.11, 1365.87];
const pmod1993 = [
  1365.91, 1365.76, 1364.63, 1366.02, 1365.84, 1365.69, 1365.95, 1365.81, 1366.06, 1365.73, 1365.88, 1365.79,
  1365.97, 1365.66, 1365.86, 1365.92, 1365.74, 1365.83, 1366.01, 1365.71, 1365.89, 1365.78, 1365.94, 1365.82,
  1365.68, 1365.87, 1365.77, 1365.93, 1365.72, 1365.84, 1365.79, 1365.9, 1365.7, 1365.81, 1365.86, 1365.75];
const pmod1994 = [
  1365.78, 1365.69, 1365.84, 1365.72, 1365.63, 1365.81, 1365.7, 1365.88, 1365.66, 1365.76, 1365.82, 1365.68,
  1365.6, 1365.74, 1365.79, 1365.65, 1365.86, 1365.71, 1365.62, 1365.77, 1365.69, 1365.73, 1365.57, 1365.8,
  1365.67, 1365.72, 1365.61, 1365.75, 1365.64, 1365.79, 1365.68, 1365.58, 1365.74, 1365.66, 1365.7, 1365.63];
const pmod1995 = [
  1365.66, 1365.57, 1365.72, 1365.61, 1365.52, 1365.68, 1365.59, 1365.75, 1365.54, 1365.64, 1365.7, 1365.56,
  1365.48, 1365.62, 1365.67, 1365.55, 1365.74, 1365.6, 1365.51, 1365.65, 1365.58, 1365.63, 1365.46, 1365.69,
  1365.57, 1365.62, 1365.5, 1365.66, 1365.56, 1365.71, 1365.59, 1365.49, 1365.64, 1365.55, 1365.6, 1365.53];
const pmod1996 = [
  1365.56, 1365.47, 1365.62, 1365.51, 1365.42, 1365.58, 1365.49, 1365.65, 1365.44, 1365.54, 1365.6, 1365.46,
  1365.39, 1365.52, 1365.57, 1365.45, 1365.64, 1365.5, 1365.41, 1365.55, 1365.48, 1365.53, 1365.36, 1365.59,
  1365.47, 1365.52, 1365.43, 1365.57, 1365.49, 1365.63, 1364.93, 1365.51, 1364.86, 1365.56, 1365.48, 1365.61];
const pmod1997 = [
  1365.58, 1365.49, 1365.67, 1365.54, 1365.72, 1365.61, 1365.46, 1365.69, 1365.57, 1365.76, 1365.63, 1365.71,
  1365.52, 1365.79, 1365.66, 1365.84, 1365.7, 1365.58, 1365.81, 1365.74, 1365.88, 1365.65, 1365.92, 1365.77,
  1365.69, 1365.86, 1365.96, 1365.73, 1365.89, 1365.81, 1366.01, 1365.78, 1365.93, 1365.85, 1366.06, 1365.9];
const pmod1998 = [
  1365.94, 1366.13, 1365.82, 1366.04, 1366.22, 1365.89, 1366.09, 1366.31, 1365.97, 1366.17, 1365.78, 1366.06,
  1366.26, 1365.92, 1366.14, 1366.38, 1366.02, 1366.21, 1365.86, 1366.11, 1366.33, 1366.05, 1366.24, 1365.98,
  1366.43, 1366.16, 1366.29, 1365.91, 1366.19, 1366.36, 1366.08, 1366.27, 1366.47, 1366.12, 1366.34, 1366.23];
const pmod1999 = [
  1366.31, 1366.54, 1366.18, 1366.43, 1366.67, 1366.26, 1366.49, 1366.08, 1366.38, 1366.72, 1366.34, 1366.57,
  1366.14, 1366.46, 1366.81, 1366.29, 1366.52, 1366.03, 1366.41, 1366.63, 1366.22, 1366.48, 1366.76, 1366.36,
  1366.59, 1366.11, 1366.44, 1366.68, 1366.27, 1366.53, 1366.87, 1366.39, 1366.61, 1366.19, 1366.47, 1366.71];
const pmod2000 = [
  1366.52, 1366.84, 1366.27, 1366.66, 1367.03, 1366.41, 1366.78, 1366.13, 1366.59, 1366.96, 1365.62, 1366.71,
  1366.35, 1367.14, 1366.48, 1366.82, 1366.19, 1366.63, 1367.28, 1366.44, 1366.91, 1366.07, 1366.74, 1365.21,
  1366.56, 1367.22, 1366.31, 1366.87, 1364.62, 1366.68, 1367.31, 1366.39, 1365.03, 1366.79, 1367.18, 1366.55];
const pmod2001 = [
  1366.73, 1367.12, 1366.38, 1366.91, 1365.44, 1366.62, 1367.24, 1366.29, 1366.81, 1366.07, 1366.53, 1366.96,
  1365.71, 1366.44, 1366.85, 1366.18, 1366.67, 1364.87, 1366.34, 1366.76, 1366.12, 1366.58, 1367.03, 1366.41,
  1365.92, 1366.69, 1366.23, 1366.87, 1365.38, 1366.51, 1366.94, 1366.31, 1367.08, 1366.64, 1366.83, 1367.21];
const pmod2002 = [
  1366.94, 1367.38, 1366.71, 1367.52, 1367.17, 1366.82, 1367.41, 1366.58, 1367.06, 1366.47, 1365.14, 1366.88,
  1366.36, 1366.74, 1366.12, 1366.59, 1367.02, 1366.27, 1365.63, 1366.51, 1366.19, 1366.83, 1366.05, 1366.42,
  1366.68, 1366.23, 1365.88, 1366.54, 1366.96, 1366.31, 1366.14, 1366.47, 1365.97, 1366.38, 1366.72, 1366.21];
const pmod2003 = [
  1366.27, 1365.93, 1366.48, 1366.12, 1365.81, 1366.36, 1366.03, 1366.64, 1365.87, 1366.19, 1365.12, 1366.41,
  1365.98, 1366.25, 1365.74, 1366.09, 1366.52, 1365.84, 1366.16, 1364.93, 1366.05, 1366.33, 1365.61, 1365.92,
  1366.18, 1365.79, 1366.44, 1365.95, 1364.41, 1366.08, 1363.63, 1365.88, 1364.87, 1366.02, 1365.76, 1366.21];
const pmod2004 = [
  1365.91, 1365.72, 1366.08, 1365.61, 1365.84, 1366.14, 1364.12, 1365.79, 1365.96, 1365.66, 1366.03, 1365.77,
  1364.78, 1365.93, 1365.58, 1365.86, 1366.11, 1365.73, 1365.95, 1365.52, 1365.81, 1366.04, 1365.67, 1364.46,
  1365.89, 1365.71, 1365.98, 1365.63, 1365.84, 1365.56, 1365.92, 1365.74, 1366.07, 1365.69, 1365.87, 1365.62];
const pmod2005 = [
  1365.72, 1363.94, 1365.64, 1364.63, 1365.79, 1365.57, 1364.92, 1365.71, 1365.52, 1365.82, 1365.66, 1365.18,
  1365.61, 1365.76, 1365.49, 1365.68, 1365.84, 1365.56, 1365.7, 1365.45, 1365.63, 1365.78, 1365.53, 1365.67,
  1365.32, 1365.59, 1365.72, 1365.48, 1365.62, 1365.74, 1365.54, 1365.65, 1365.44, 1365.58, 1365.69, 1365.51];
const pmod2006 = [
  1365.57, 1365.46, 1365.63, 1365.51, 1365.41, 1365.58, 1365.49, 1365.66, 1365.43, 1365.54, 1365.6, 1365.45,
  1365.38, 1365.52, 1365.56, 1365.44, 1365.62, 1365.5, 1365.4, 1365.55, 1365.47, 1365.53, 1365.35, 1365.57,
  1365.45, 1365.5, 1365.39, 1365.54, 1365.46, 1365.59, 1365.48, 1365.37, 1365.52, 1365.43, 1365.49, 1365.41];
const pmod2007 = [
  1365.45, 1365.37, 1365.51, 1365.41, 1365.33, 1365.47, 1365.39, 1365.54, 1365.35, 1365.43, 1365.49, 1365.36,
  1365.3, 1365.42, 1365.46, 1365.34, 1365.52, 1365.4, 1365.32, 1365.44, 1365.38, 1365.42, 1365.27, 1365.47,
  1365.36, 1365.41, 1365.31, 1365.44, 1365.37, 1365.49, 1365.39, 1365.29, 1365.43, 1365.35, 1365.4, 1365.33];
const pmod2008 = [
  1365.35, 1365.28, 1365.39, 1365.31, 1365.24, 1365.36, 1365.29, 1365.41, 1365.26, 1365.33, 1365.37, 1365.27,
  1365.22, 1365.32, 1365.35, 1365.25, 1365.4, 1365.3, 1365.23, 1365.34, 1365.28, 1365.31, 1365.2, 1365.36,
  1365.27, 1365.3, 1365.22, 1365.33, 1365.26, 1365.37, 1365.29, 1365.21, 1365.32, 1365.25, 1365.29, 1365.24];
const pmod2009 = [
  1365.26, 1365.19, 1365.31, 1365.23, 1365.17, 1365.28, 1365.22, 1365.33, 1365.2, 1365.27, 1365.3, 1365.24,
  1365.29, 1365.35, 1365.26, 1365.32, 1365.38, 1365.28, 1365.34, 1365.41, 1365.31, 1365.37, 1365.44, 1365.33,
  1365.39, 1365.46, 1365.35, 1365.42, 1365.49, 1365.38, 1365.45, 1365.52, 1365.41, 1365.48, 1365.55, 1365.43];
const pmod2010 = [
  1365.47, 1365.56, 1365.41, 1365.52, 1365.61, 1365.45, 1365.57, 1365.36, 1365.51, 1365.64, 1365.48, 1365.55,
  1365.42, 1365.59, 1365.5, 1365.67, 1365.53, 1365.39, 1365.61, 1365.49, 1365.7, 1365.54, 1365.46, 1365.63,
  1365.58, 1365.43, 1365.66, 1365.52, 1365.73, 1365.57, 1365.47, 1365.69, 1365.62, 1365.78, 1365.55, 1365.71];
const pmod2011 = [
  1365.62, 1365.78, 1365.53, 1365.71, 1365.87, 1365.59, 1365.74, 1365.48, 1365.81, 1365.66, 1365.93, 1365.57,
  1365.79, 1366.02, 1365.68, 1365.86, 1365.54, 1365.76, 1366.09, 1365.63, 1365.84, 1366.18, 1365.72, 1365.91,
  1364.43, 1365.81, 1364.72, 1365.69, 1365.97, 1365.76, 1366.12, 1365.88, 1366.28, 1365.94, 1366.41, 1366.06];
const pmod2012 = [1366.02, 1365.86, 1366.19, 1364.91, 1365.94, 1366.11, 1365.83];

// ---------------- PMOD composite TSI (W/m^2), pass B ----------------
const pmod1978b = [1365.94, 1366.33, 1364.61, 1366.52, 1366.08];
const pmod1979b = [
  1366.61, 1366.18, 1366.87, 1366.42, 1367.21, 1366.73, 1366.31, 1366.96, 1366.57, 1367.33, 1366.44, 1366.82,
  1366.19, 1366.68, 1367.03, 1366.37, 1366.84, 1365.96, 1366.62, 1366.99, 1366.48, 1366.74, 1366.27, 1366.91,
  1366.59, 1367.14, 1366.36, 1366.71, 1366.14, 1366.83, 1366.52, 1367.06, 1366.43, 1366.67, 1366.24, 1366.92];
const pmod1980b = [
  1366.86, 1366.53, 1367.19, 1366.71, 1366.38, 1367.02, 1366.64, 1366.94, 1366.29, 1366.77, 1367.26, 1366.58,
  1366.81, 1366.42, 1367.09, 1366.66, 1366.91, 1366.31, 1366.74, 1367.15, 1366.49, 1366.87, 1366.23, 1366.69,
  1367.03, 1366.56, 1366.79, 1366.35, 1367.24, 1366.63, 1366.97, 1366.44, 1366.75, 1367.11, 1366.52, 1366.89];
const pmod1981b = [
  1366.93, 1366.49, 1367.21, 1366.76, 1366.37, 1367.06, 1366.61, 1366.89, 1367.36, 1366.54, 1366.99, 1366.22,
  1366.74, 1367.14, 1366.46, 1366.87, 1364.91, 1366.63, 1367.01, 1366.39, 1366.82, 1367.41, 1366.57, 1366.94,
  1366.31, 1366.72, 1365.28, 1366.66, 1367.07, 1366.44, 1366.86, 1366.23, 1366.69, 1367.19, 1366.51, 1366.78];
const pmod1982b = [
  1366.81, 1366.43, 1367.12, 1366.58, 1366.27, 1366.91, 1366.48, 1367.19, 1366.66, 1366.21, 1366.87, 1365.12,
  1366.56, 1366.97, 1366.34, 1366.72, 1366.16, 1366.61, 1367.03, 1366.39, 1366.79, 1364.88, 1366.52, 1366.26,
  1366.84, 1366.45, 1366.12, 1366.63, 1366.31, 1366.86, 1366.04, 1366.52, 1366.22, 1366.71, 1366.37, 1366.15];
const pmod1983b = [
  1366.48, 1366.17, 1366.71, 1366.36, 1366.06, 1366.53, 1366.24, 1365.93, 1366.39, 1366.62, 1366.14, 1366.43,
  1366.21, 1366.57, 1365.12, 1366.33, 1366.02, 1366.45, 1366.19, 1365.91, 1366.28, 1366.51, 1366.12, 1366.36,
  1366.03, 1366.25, 1365.87, 1366.19, 1366.41, 1365.98, 1366.14, 1365.84, 1366.27, 1366.06, 1365.91, 1366.12];
const pmod1984b = [
  1366.04, 1365.82, 1366.18, 1365.39, 1365.96, 1364.92, 1366.02, 1365.88, 1366.09, 1365.81, 1365.93, 1364.63,
  1365.86, 1365.74, 1365.97, 1365.83, 1365.71, 1365.9, 1365.78, 1365.95, 1365.69, 1365.82, 1365.88, 1365.73,
  1365.85, 1365.66, 1365.79, 1365.9, 1365.75, 1365.64, 1365.82, 1365.7, 1365.77, 1365.86, 1365.69, 1365.74];
const pmod1985b = [
  1365.66, 1365.76, 1365.61, 1365.7, 1365.82, 1365.63, 1365.73, 1365.56, 1365.68, 1365.78, 1365.65, 1365.72,
  1365.59, 1365.67, 1365.8, 1365.64, 1365.71, 1365.57, 1365.69, 1365.76, 1365.62, 1365.74, 1365.66, 1365.58,
  1365.73, 1365.67, 1365.79, 1365.6, 1365.69, 1365.75, 1365.63, 1365.7, 1365.54, 1365.66, 1365.74, 1365.65];
const pmod1986b = [
  1365.6, 1365.68, 1365.53, 1365.63, 1365.72, 1365.56, 1365.65, 1365.48, 1365.61, 1365.7, 1365.57, 1365.64,
  1365.51, 1365.59, 1365.71, 1365.55, 1365.62, 1365.5, 1365.67, 1365.58, 1365.64, 1365.54, 1365.69, 1365.6,
  1365.52, 1365.63, 1365.57, 1365.7, 1365.55, 1365.61, 1365.66, 1365.51, 1365.62, 1365.69, 1365.56, 1365.64];
const pmod1987b = [
  1365.63, 1365.55, 1365.7, 1365.6, 1365.76, 1365.64, 1365.71, 1365.58, 1365.8, 1365.69, 1365.77, 1365.63,
  1365.84, 1365.72, 1365.66, 1365.88, 1365.76, 1365.83, 1365.69, 1365.91, 1365.8, 1365.74, 1365.94, 1365.85,
  1365.78, 1366.0, 1365.87, 1365.81, 1366.04, 1365.92, 1365.84, 1366.08, 1365.96, 1365.88, 1366.13, 1365.99];
const pmod1988b = [
  1366.03, 1365.86, 1366.2, 1365.96, 1366.11, 1366.31, 1366.01, 1365.79, 1366.19, 1366.06, 1366.39, 1366.15,
  1366.28, 1365.94, 1366.22, 1366.44, 1366.09, 1366.33, 1365.27, 1366.17, 1366.49, 1366.26, 1366.04, 1366.37,
  1366.58, 1366.21, 1366.45, 1366.12, 1366.34, 1366.66, 1366.24, 1366.49, 1366.31, 1366.72, 1366.39, 1366.18];
const pmod1989b = [
  1366.63, 1366.35, 1366.92, 1366.51, 1367.31, 1366.74, 1367.46, 1366.88, 1367.72, 1366.46, 1367.09, 1366.67,
  1366.38, 1366.96, 1367.34, 1366.56, 1366.81, 1366.24, 1367.18, 1366.71, 1366.49, 1366.97, 1366.31, 1366.86,
  1366.62, 1367.26, 1366.43, 1366.79, 1366.18, 1366.95, 1366.55, 1367.12, 1366.36, 1366.83, 1366.57, 1367.04];
const pmod1990b = [
  1366.76, 1366.39, 1367.02, 1366.58, 1366.29, 1366.94, 1366.66, 1365.71, 1366.51, 1366.88, 1366.22, 1366.73,
  1367.12, 1366.47, 1366.81, 1366.16, 1366.62, 1367.04, 1366.37, 1365.02, 1366.77, 1366.53, 1366.91, 1366.28,
  1366.68, 1366.42, 1367.18, 1366.59, 1366.08, 1366.84, 1366.49, 1366.97, 1366.33, 1366.71, 1366.56, 1366.94];
const pmod1991b = [
  1366.91, 1366.54, 1367.22, 1366.69, 1367.03, 1366.43, 1366.84, 1367.31, 1366.62, 1366.97, 1367.56, 1366.71,
  1366.38, 1366.93, 1367.14, 1366.58, 1366.86, 1365.62, 1366.73, 1367.12, 1366.49, 1366.88, 1366.31, 1366.82,
  1367.07, 1366.63, 1366.91, 1366.42, 1367.24, 1366.67, 1364.31, 1366.79, 1366.54, 1366.96, 1366.61, 1366.33];
const pmod1992b = [
  1366.27, 1366.53, 1366.01, 1366.39, 1366.16, 1366.47, 1365.94, 1366.31, 1366.11, 1366.36, 1366.03, 1366.24,
  1366.12, 1365.97, 1366.29, 1366.06, 1366.17, 1365.91, 1366.23, 1366.04, 1365.94, 1366.16, 1365.83, 1366.07,
  1365.97, 1366.12, 1365.86, 1366.01, 1366.19, 1365.92, 1366.05, 1365.81, 1365.98, 1366.08, 1365.89, 1366.02];
const pmod1993b = [
  1365.84, 1365.97, 1365.73, 1365.89, 1365.78, 1366.03, 1365.86, 1365.74, 1365.92, 1365.8, 1366.0, 1365.71,
  1365.85, 1365.93, 1365.77, 1365.88, 1365.69, 1365.82, 1365.95, 1365.76, 1365.86, 1365.73, 1365.9, 1365.8,
  1365.75, 1365.91, 1365.83, 1365.7, 1365.87, 1365.76, 1365.84, 1365.72, 1365.88, 1365.78, 1365.74, 1365.83];
const pmod1994b = [
  1365.73, 1365.81, 1365.66, 1365.76, 1365.85, 1365.69, 1365.78, 1365.62, 1365.74, 1365.83, 1365.7, 1365.77,
  1365.64, 1365.72, 1365.8, 1365.67, 1365.75, 1365.61, 1365.73, 1365.78, 1365.65, 1365.76, 1365.68, 1365.6,
  1365.71, 1365.66, 1365.77, 1365.63, 1365.7, 1365.74, 1365.59, 1365.68, 1365.72, 1365.62, 1365.69, 1365.65];
const pmod1995b = [
  1365.61, 1365.69, 1365.55, 1365.65, 1365.73, 1365.58, 1365.67, 1365.5, 1365.62, 1365.71, 1365.57, 1365.64,
  1365.53, 1365.6, 1365.68, 1365.56, 1365.63, 1365.49, 1365.61, 1365.66, 1365.54, 1365.64, 1365.58, 1365.51,
  1365.62, 1365.56, 1365.67, 1365.53, 1365.59, 1365.63, 1365.48, 1365.57, 1365.61, 1365.52, 1365.58, 1365.55];
const pmod1996b = [
  1365.51, 1365.59, 1365.45, 1365.55, 1365.63, 1365.48, 1365.57, 1365.4, 1365.52, 1365.61, 1365.47, 1365.54,
  1365.43, 1365.5, 1365.58, 1365.46, 1365.53, 1365.39, 1365.51, 1365.56, 1365.44, 1365.54, 1365.48, 1365.41,
  1365.52, 1365.46, 1365.57, 1365.43, 1365.5, 1364.97, 1365.44, 1365.53, 1365.47, 1365.58, 1365.45, 1365.52];
const pmod1997b = [
  1365.53, 1365.62, 1365.47, 1365.59, 1365.51, 1365.66, 1365.56, 1365.63, 1365.5, 1365.7, 1365.6, 1365.67,
  1365.73, 1365.62, 1365.78, 1365.68, 1365.75, 1365.63, 1365.83, 1365.72, 1365.79, 1365.68, 1365.86, 1365.75,
  1365.82, 1365.9, 1365.79, 1365.87, 1365.76, 1365.95, 1365.84, 1365.91, 1365.99, 1365.86, 1365.94, 1366.02];
const pmod1998b = [
  1366.03, 1365.88, 1366.18, 1365.99, 1366.09, 1366.27, 1366.01, 1366.15, 1365.92, 1366.24, 1366.08, 1366.19,
  1366.01, 1366.32, 1366.12, 1365.96, 1366.28, 1366.17, 1366.41, 1366.07, 1366.23, 1366.36, 1366.13, 1366.3,
  1366.21, 1366.39, 1366.09, 1366.26, 1366.44, 1366.18, 1366.32, 1366.51, 1366.24, 1366.4, 1366.17, 1366.37];
const pmod1999b = [
  1366.42, 1366.24, 1366.61, 1366.33, 1366.52, 1366.15, 1366.46, 1366.69, 1366.31, 1366.57, 1366.23, 1366.49,
  1366.64, 1366.37, 1366.56, 1366.19, 1366.44, 1366.74, 1366.33, 1366.58, 1366.27, 1366.51, 1366.66, 1366.42,
  1366.31, 1366.56, 1366.79, 1366.46, 1366.62, 1366.24, 1366.54, 1366.71, 1366.37, 1366.58, 1366.83, 1366.49];
const pmod2000b = [
  1366.69, 1366.38, 1366.92, 1366.54, 1366.76, 1366.21, 1366.63, 1366.88, 1366.46, 1367.06, 1366.57, 1366.81,
  1366.24, 1366.67, 1366.95, 1366.51, 1366.73, 1366.31, 1366.86, 1367.11, 1366.58, 1366.79, 1366.42, 1366.97,
  1366.64, 1366.29, 1366.83, 1367.07, 1366.52, 1365.84, 1366.71, 1366.93, 1366.46, 1367.16, 1366.63, 1366.87];
const pmod2001b = [
  1366.86, 1366.51, 1367.04, 1366.66, 1366.27, 1366.79, 1366.43, 1366.97, 1366.58, 1366.14, 1366.73, 1366.35,
  1366.84, 1366.54, 1366.22, 1366.71, 1366.39, 1366.92, 1366.48, 1365.54, 1366.63, 1366.27, 1366.81, 1366.53,
  1366.75, 1366.36, 1367.01, 1366.59, 1366.17, 1366.77, 1366.44, 1367.14, 1366.72, 1366.96, 1366.58, 1367.06];
const pmod2002b = [
  1367.11, 1366.79, 1367.29, 1366.92, 1367.44, 1367.03, 1366.66, 1367.23, 1366.89, 1366.61, 1366.98, 1366.53,
  1366.79, 1366.44, 1366.67, 1366.32, 1366.86, 1366.46, 1366.18, 1366.63, 1366.37, 1366.71, 1366.27, 1366.56,
  1366.12, 1366.49, 1366.78, 1366.33, 1366.59, 1366.08, 1366.41, 1366.27, 1366.62, 1366.19, 1366.46, 1366.31];
const pmod2003b = [
  1366.13, 1366.38, 1365.99, 1366.27, 1366.55, 1366.08, 1366.31, 1365.92, 1366.23, 1366.47, 1366.01, 1366.29,
  1365.86, 1366.14, 1366.36, 1365.96, 1366.22, 1365.68, 1366.12, 1366.38, 1365.89, 1366.19, 1366.03, 1365.83,
  1366.26, 1365.97, 1366.09, 1365.71, 1366.14, 1365.91, 1364.16, 1366.03, 1365.82, 1366.12, 1365.93, 1366.07];
const pmod2004b = [
  1365.83, 1366.01, 1365.68, 1365.92, 1365.76, 1366.06, 1365.88, 1365.63, 1365.97, 1365.82, 1366.09, 1365.71,
  1365.91, 1365.77, 1366.02, 1365.65, 1365.87, 1365.79, 1366.01, 1365.68, 1365.9, 1365.76, 1365.94, 1365.81,
  1365.72, 1365.96, 1365.64, 1365.86, 1365.77, 1365.99, 1365.68, 1365.83, 1365.58, 1365.8, 1365.71, 1365.89];
const pmod2005b = [
  1365.66, 1365.81, 1364.41, 1365.74, 1365.59, 1365.77, 1365.63, 1365.86, 1365.58, 1365.72, 1365.65, 1365.79,
  1365.55, 1365.7, 1365.62, 1365.77, 1365.51, 1365.66, 1365.73, 1365.58, 1365.68, 1365.49, 1365.64, 1365.71,
  1365.6, 1365.66, 1365.52, 1365.68, 1365.57, 1365.63, 1365.47, 1365.61, 1365.55, 1365.66, 1365.52, 1365.59];
const pmod2006b = [
  1365.52, 1365.61, 1365.47, 1365.56, 1365.64, 1365.5, 1365.59, 1365.42, 1365.54, 1365.62, 1365.48, 1365.57,
  1365.45, 1365.53, 1365.6, 1365.47, 1365.55, 1365.41, 1365.52, 1365.58, 1365.44, 1365.55, 1365.49, 1365.4,
  1365.51, 1365.46, 1365.56, 1365.42, 1365.5, 1365.54, 1365.38, 1365.47, 1365.52, 1365.41, 1365.46, 1365.44];
const pmod2007b = [
  1365.41, 1365.48, 1365.35, 1365.44, 1365.52, 1365.38, 1365.46, 1365.31, 1365.42, 1365.5, 1365.37, 1365.45,
  1365.33, 1365.4, 1365.48, 1365.36, 1365.43, 1365.29, 1365.41, 1365.46, 1365.34, 1365.44, 1365.38, 1365.3,
  1365.4, 1365.35, 1365.45, 1365.32, 1365.39, 1365.42, 1365.28, 1365.37, 1365.41, 1365.31, 1365.36, 1365.34];
const pmod2008b = [
  1365.31, 1365.37, 1365.26, 1365.33, 1365.4, 1365.28, 1365.35, 1365.22, 1365.3, 1365.38, 1365.27, 1365.34,
  1365.24, 1365.29, 1365.36, 1365.26, 1365.32, 1365.21, 1365.3, 1365.34, 1365.25, 1365.33, 1365.28, 1365.2,
  1365.29, 1365.25, 1365.34, 1365.22, 1365.28, 1365.31, 1365.19, 1365.27, 1365.3, 1365.23, 1365.27, 1365.25];
const pmod2009b = [
  1365.23, 1365.29, 1365.18, 1365.26, 1365.32, 1365.2, 1365.27, 1365.16, 1365.24, 1365.31, 1365.27, 1365.22,
  1365.33, 1365.28, 1365.37, 1365.3, 1365.25, 1365.36, 1365.32, 1365.4, 1365.34, 1365.29, 1365.42, 1365.36,
  1365.44, 1365.38, 1365.33, 1365.47, 1365.4, 1365.5, 1365.43, 1365.39, 1365.51, 1365.46, 1365.41, 1365.53];
const pmod2010b = [
  1365.52, 1365.44, 1365.59, 1365.49, 1365.41, 1365.58, 1365.53, 1365.46, 1365.62, 1365.5, 1365.57, 1365.44,
  1365.6, 1365.54, 1365.47, 1365.64, 1365.56, 1365.51, 1365.66, 1365.58, 1365.45, 1365.62, 1365.55, 1365.68,
  1365.6, 1365.52, 1365.71, 1365.63, 1365.55, 1365.74, 1365.66, 1365.58, 1365.76, 1365.64, 1365.59, 1365.73];
const pmod2011b = [
  1365.69, 1365.56, 1365.82, 1365.64, 1365.51, 1365.77, 1365.69, 1365.91, 1365.62, 1365.74, 1365.85, 1365.67,
  1365.95, 1365.73, 1365.61, 1365.88, 1365.79, 1366.05, 1365.7, 1365.92, 1365.81, 1366.11, 1365.77, 1366.01,
  1365.86, 1365.19, 1366.07, 1365.84, 1366.21, 1365.92, 1366.02, 1366.34, 1365.97, 1366.16, 1366.47, 1366.12];
const pmod2012b = [1365.91, 1366.24, 1365.97, 1366.08, 1365.79, 1366.16, 1366.01];

// [first sample year, pass A samples, pass B samples]
const ACRIM_SERIES: [number, number[], number[]][] = [
  [1978.86, acrim1978, acrim1978b], [1979, acrim1979, acrim1979b], [1980, acrim1980, acrim1980b],
  [1981, acrim1981, acrim1981b], [1982, acrim1982, acrim1982b], [1983, acrim1983, acrim1983b],
  [1984, acrim1984, acrim1984b], [1985, acrim1985, acrim1985b], [1986, acrim1986, acrim1986b],
  [1987, acrim1987, acrim1987b], [1988, acrim1988, acrim1988b], [1989, acrim1989, acrim1989b],
  [1990, acrim1990, acrim1990b], [1991, acrim1991, acrim1991b], [1992, acrim1992, acrim1992b],
  [1993, acrim1993, acrim1993b], [1994, acrim1994, acrim1994b], [1995, acrim1995, acrim1995b],
  [1996, acrim1996, acrim1996b], [1997, acrim1997, acrim1997b], [1998, acrim1998, acrim1998b],
  [1999, acrim1999, acrim1999b], [2000, acrim2000, acrim2000b], [2001, acrim2001, acrim2001b],
  [2002, acrim2002, acrim2002b], [2003, acrim2003, acrim2003b], [2004, acrim2004, acrim2004b],
  [2005, acrim2005, acrim2005b], [2006, acrim2006, acrim2006b], [2007, acrim2007, acrim2007b],
  [2008, acrim2008, acrim2008b], [2009, acrim2009, acrim2009b], [2010, acrim2010, acrim2010b],
  [2011, acrim2011, acrim2011b], [2012, acrim2012, acrim2012b], [2013, acrim2013, acrim2013b],
];
const PMOD_SERIES: [number, number[], number[]][] = [
  [1978.87, pmod1978, pmod1978b], [1979, pmod1979, pmod1979b], [1980, pmod1980, pmod1980b],
  [1981, pmod1981, pmod1981b], [1982, pmod1982, pmod1982b], [1983, pmod1983, pmod1983b],
  [1984, pmod1984, pmod1984b], [1985, pmod1985, pmod1985b], [1986, pmod1986, pmod1986b],
  [1987, pmod1987, pmod1987b], [1988, pmod1988, pmod1988b], [1989, pmod1989, pmod1989b],
  [1990, pmod1990, pmod1990b], [1991, pmod1991, pmod1991b], [1992, pmod1992, pmod1992b],
  [1993, pmod1993, pmod1993b], [1994, pmod1994, pmod1994b], [1995, pmod1995, pmod1995b],
  [1996, pmod1996, pmod1996b], [1997, pmod1997, pmod1997b], [1998, pmod1998, pmod1998b],
  [1999, pmod1999, pmod1999b], [2000, pmod2000, pmod2000b], [2001, pmod2001, pmod2001b],
  [2002, pmod2002, pmod2002b], [2003, pmod2003, pmod2003b], [2004, pmod2004, pmod2004b],
  [2005, pmod2005, pmod2005b], [2006, pmod2006, pmod2006b], [2007, pmod2007, pmod2007b],
  [2008, pmod2008, pmod2008b], [2009, pmod2009, pmod2009b], [2010, pmod2010, pmod2010b],
  [2011, pmod2011, pmod2011b], [2012, pmod2012, pmod2012b],
];

// ---------------- minima and trends ----------------
const MINIMA_YEARS = [1986.74, 1996.5, 2009.03];
const ACRIM_MINIMA = [1360.6, 1361.1, 1360.77];
const PMOD_MINIMA = [1365.58, 1365.47, 1365.26];
const ACRIM_TRENDS = ["Minima trends: (%/decade)", "Solar cycles 21 \u2212 23: + 0.037", "Solar cycles 21 \u2212 24: + 0.005"];
const PMOD_TRENDS = ["Minima trends: (%/decade)", "Solar cycles 21 \u2212 23: \u22120.008", "Solar cycles 21 \u2212 24: \u22120.011"];

// ---------------- solar cycle bands ----------------
const CYCLE_EDGES = [1978, 1986.71, 1996.23, 2008.52, 2013.78, 2014];
const CYCLE_COLORS = [RED, BLUE, RED, BLUE, RED];
const CYCLE_NAMES = ["Solar Cycle 21", "Solar Cycle 22", "Solar Cycle 23", "Solar Cycle 24"];
const CYCLE_NAME_YEARS = [1980.23, 1990.1, 2000.12, 2008.54];

// ---------------- instrument bands ----------------
const ACRIM_INSTR_EDGES = [1978.82, 1980.06, 1989.48, 1991.7, 1992.43, 1992.53, 2013.78];
const ACRIM_INSTR_COLORS = [RED, BLUE, RED, BLUE, RED, BLUE];
const ACRIM_INSTR_NAMES = ["Nimbus7/ERB", "ACRIM1", "Nimbus7/ERB", "ACRIM2", "ACRIM3"];
const ACRIM_INSTR_NAME_YEARS = [1978.03, 1983.95, 1989.13, 1995.5, 2006.28];
const ACRIM_INSTR_NAME_COLORS = [RED, BLUE, RED, BLUE, BLUE];

const PMOD_INSTR_EDGES = [1978, 1980.16, 1980.96, 1984.19, 1989.48, 1991.7, 1996.2, 2014];
const PMOD_INSTR_COLORS = [RED, BLUE, RED, BLUE, RED, BLUE, RED];
const PMOD_INSTR_NAMES = ["N7/ERB", "ACRIM1", "N7/ERB", "ACRIM1", "N7/ERB", "ACRIM2", "VIRGO"];
const PMOD_INSTR_NAME_YEARS = [1978.14, 1979.77, 1981.83, 1986.07, 1989.83, 1993.17, 2004.43];
const PMOD_INSTR_NAME_COLORS = [RED, BLUE, RED, BLUE, RED, BLUE, RED];

type Label = { text: string; x: number; y: number; color: string };

type Panel = {
  id: string;
  title: string;
  series: [number, number[], number[]][];
  yMin: number;
  yMax: number;
  yTicks: number[];
  minima: number[];
  cycleY: number;
  instrY: number;
  instrEdges: number[];
  instrColors: string[];
  labels: Label[];
  trendLines: string[];
  trendX: number;
  trendY: number[];
  padTop: number;
  xAxisHeight: number;
  yearPad: number;
};

function buildLabels(cycleY: number, instrY: number, names: string[], years: number[], colors: string[]): Label[] {
  const out: Label[] = [];
  CYCLE_NAMES.forEach((t, i) => out.push({ text: t, x: CYCLE_NAME_YEARS[i], y: cycleY, color: CYCLE_COLORS[i] }));
  names.forEach((t, i) => out.push({ text: t, x: years[i], y: instrY, color: colors[i] }));
  return out;
}

const PANELS: Panel[] = [
  {
    id: "acrim",
    title: "ACRIM Composite TSI Time Series (Daily Means)",
    series: ACRIM_SERIES,
    yMin: 1359,
    yMax: 1364,
    yTicks: ACRIM_Y_TICKS,
    minima: ACRIM_MINIMA,
    cycleY: 1363.76,
    instrY: 1359.19,
    instrEdges: ACRIM_INSTR_EDGES,
    instrColors: ACRIM_INSTR_COLORS,
    labels: buildLabels(1363.76, 1359.19, ACRIM_INSTR_NAMES, ACRIM_INSTR_NAME_YEARS, ACRIM_INSTR_NAME_COLORS),
    trendLines: ACRIM_TRENDS,
    trendX: 2005.86,
    trendY: [1363.212, 1362.968, 1362.709],
    padTop: 43.5,
    xAxisHeight: 73,
    yearPad: 14,
  },
  {
    id: "pmod",
    title: "PMOD Composite TSI Time Series (Daily Means)",
    series: PMOD_SERIES,
    yMin: 1363.5,
    yMax: 1368.5,
    yTicks: PMOD_Y_TICKS,
    minima: PMOD_MINIMA,
    cycleY: 1368.26,
    instrY: 1363.71,
    instrEdges: PMOD_INSTR_EDGES,
    instrColors: PMOD_INSTR_COLORS,
    labels: buildLabels(1368.26, 1363.71, PMOD_INSTR_NAMES, PMOD_INSTR_NAME_YEARS, PMOD_INSTR_NAME_COLORS),
    trendLines: PMOD_TRENDS,
    trendX: 2005.86,
    trendY: [1367.731, 1367.474, 1367.219],
    padTop: 61.3,
    xAxisHeight: 55,
    yearPad: -1,
  },
];

function seriesPoints(series: [number, number[], number[]][]) {
  const pts: { x: number; y: number }[] = [];
  for (const [start, passA, passB] of series) {
    passA.forEach((v, i) => pts.push({ x: start + (i + 0.25) * STEP, y: v }));
    passB.forEach((v, i) => pts.push({ x: start + (i + 0.75) * STEP, y: v }));
  }
  return pts;
}

function segmentDatasets(edges: number[], colors: string[], y: number, order: number) {
  const out: any[] = [];
  for (let i = 0; i < colors.length; i++) {
    const dotted = edges === CYCLE_EDGES && i === colors.length - 1;
    out.push({
      type: "line",
      data: [{ x: edges[i], y }, { x: edges[i + 1], y }],
      borderColor: colors[i],
      borderWidth: 3,
      borderDash: dotted ? [2, 2] : [],
      pointRadius: 0,
      fill: false,
      order,
    });
  }
  return out;
}

function makePlugin(p: Panel) {
  return {
    id: "panelDecor_" + p.id,
    afterDatasetsDraw(chart: any) {
      const { ctx, scales } = chart;
      const xs = scales.x;
      const ys = scales.y;
      ctx.save();
      ctx.font = `13.8px ${FONT}`;
      ctx.textAlign = "left";
      ctx.textBaseline = "alphabetic";
      for (const l of p.labels) {
        ctx.fillStyle = l.color;
        ctx.fillText(l.text, xs.getPixelForValue(l.x), ys.getPixelForValue(l.y) - 1.5);
      }
      ctx.fillStyle = BLUE;
      p.trendLines.forEach((t, i) => {
        ctx.fillText(t, xs.getPixelForValue(p.trendX), ys.getPixelForValue(p.trendY[i]));
      });
      ctx.restore();
    },
    afterDraw(chart: any) {
      const { ctx, chartArea: a, scales } = chart;
      ctx.save();
      // frame
      ctx.strokeStyle = "#000";
      ctx.lineWidth = 1.5;
      ctx.strokeRect(a.left, a.top, a.right - a.left, a.bottom - a.top);
      // inward ticks
      ctx.lineWidth = 1.3;
      ctx.strokeStyle = "#222";
      const tl = 10;
      ctx.beginPath();
      for (const t of scales.x.ticks) {
        const px = scales.x.getPixelForValue(t.value);
        if (px <= a.left + 1 || px >= a.right - 1) continue;
        ctx.moveTo(px, a.bottom);
        ctx.lineTo(px, a.bottom - tl);
        ctx.moveTo(px, a.top);
        ctx.lineTo(px, a.top + tl);
      }
      for (const t of scales.y.ticks) {
        const py = scales.y.getPixelForValue(t.value);
        if (py <= a.top + 1 || py >= a.bottom - 1) continue;
        ctx.moveTo(a.left, py);
        ctx.lineTo(a.left + tl, py);
        ctx.moveTo(a.right, py);
        ctx.lineTo(a.right - tl, py);
      }
      ctx.stroke();
      // title
      ctx.fillStyle = "#000";
      ctx.font = `bold 28px ${FONT}`;
      ctx.textAlign = "center";
      ctx.textBaseline = "alphabetic";
      ctx.fillText(p.title, (a.left + a.right) / 2 - 6, a.top - 17);
      // y-axis title
      ctx.save();
      ctx.translate(22, (a.top + a.bottom) / 2 - 8);
      ctx.rotate(-Math.PI / 2);
      ctx.font = `bold 24px ${FONT}`;
      ctx.textAlign = "center";
      ctx.textBaseline = "middle";
      ctx.fillText("TSI @ 1 AU (W/m^2)", 0, 0);
      ctx.restore();
      ctx.restore();
    },
  };
}

function buildConfig(p: Panel): any {
  const datasets: any[] = [];
  datasets.push({
    type: "scatter",
    data: MINIMA_YEARS.map((x, i) => ({ x, y: p.minima[i] })),
    pointRadius: 6,
    pointBackgroundColor: RED,
    pointBorderWidth: 0,
    order: 0,
  });
  [1, 2].forEach((j) =>
    datasets.push({
      type: "line",
      data: [{ x: MINIMA_YEARS[0], y: p.minima[0] }, { x: MINIMA_YEARS[j], y: p.minima[j] }],
      borderColor: RED,
      borderWidth: 1.8,
      borderDash: [13, 15],
      pointRadius: 0,
      fill: false,
      order: 1,
    })
  );
  datasets.push(...segmentDatasets(CYCLE_EDGES, CYCLE_COLORS, p.cycleY, 2));
  datasets.push(...segmentDatasets(p.instrEdges, p.instrColors, p.instrY, 2));
  datasets.push({
    type: "scatter",
    data: seriesPoints(p.series),
    pointRadius: 1.5,
    pointBackgroundColor: "#000",
    pointBorderWidth: 0,
    order: 5,
  });

  const tickFont = { family: FONT, size: 18 };
  const titleFont = { family: FONT, size: 23, weight: "bold" as const };

  return {
    type: "scatter",
    data: { datasets },
    options: {
      responsive: false,
      animation: false,
      events: [],
      layout: { padding: { top: p.padTop, right: 25, left: 0, bottom: 0 } },
      plugins: { legend: { display: false }, tooltip: { enabled: false }, title: { display: false } },
      scales: {
        x: {
          type: "linear",
          position: "bottom",
          min: X_TICK_MIN,
          max: X_TICK_MAX,
          ticks: {
            stepSize: 2,
            autoSkip: false,
            maxRotation: 0,
            padding: 9,
            color: "#000",
            font: tickFont,
            callback: (v: number) => String(v),
          },
          grid: { color: "rgba(0,0,0,0.85)", lineWidth: 1, drawTicks: false },
          border: { display: false, dash: [1, 8.5] },
          title: { display: true, text: "Year", color: "#000", font: titleFont, padding: { top: 0, bottom: p.yearPad } },
          afterFit: (s: any) => {
            s.height = p.xAxisHeight;
          },
        },
        y: {
          type: "linear",
          min: p.yMin,
          max: p.yMax,
          ticks: {
            padding: 8,
            color: "#000",
            font: tickFont,
            callback: (v: number) => String(v),
          },
          afterBuildTicks: (s: any) => {
            s.ticks = p.yTicks.map((v) => ({ value: v }));
          },
          grid: { color: "rgba(0,0,0,0.85)", lineWidth: 1, drawTicks: false },
          border: { display: false, dash: [1, 8.5] },
          title: { display: false },
          afterFit: (s: any) => {
            s.width = 93;
          },
        },
      },
    },
    plugins: [makePlugin(p)],
  };
}

function PanelChart({ panel, top }: { panel: Panel; top: number }) {
  const ref = useRef<HTMLCanvasElement | null>(null);
  useEffect(() => {
    if (!ref.current) return;
    const chart = new Chart(ref.current, buildConfig(panel));
    return () => chart.destroy();
  }, [panel]);
  return (
    <canvas
      ref={ref}
      width={1154}
      height={458}
      style={{ position: "absolute", left: 0, top, width: 1154, height: 458, display: "block" }}
    />
  );
}

export default function App() {
  return (
    <div style={{ position: "absolute", left: 0, top: 0, width: 1154, height: 916, background: "#fff", overflow: "hidden" }}>
      <PanelChart panel={PANELS[0]} top={0} />
      <PanelChart panel={PANELS[1]} top={458} />
    </div>
  );
}
